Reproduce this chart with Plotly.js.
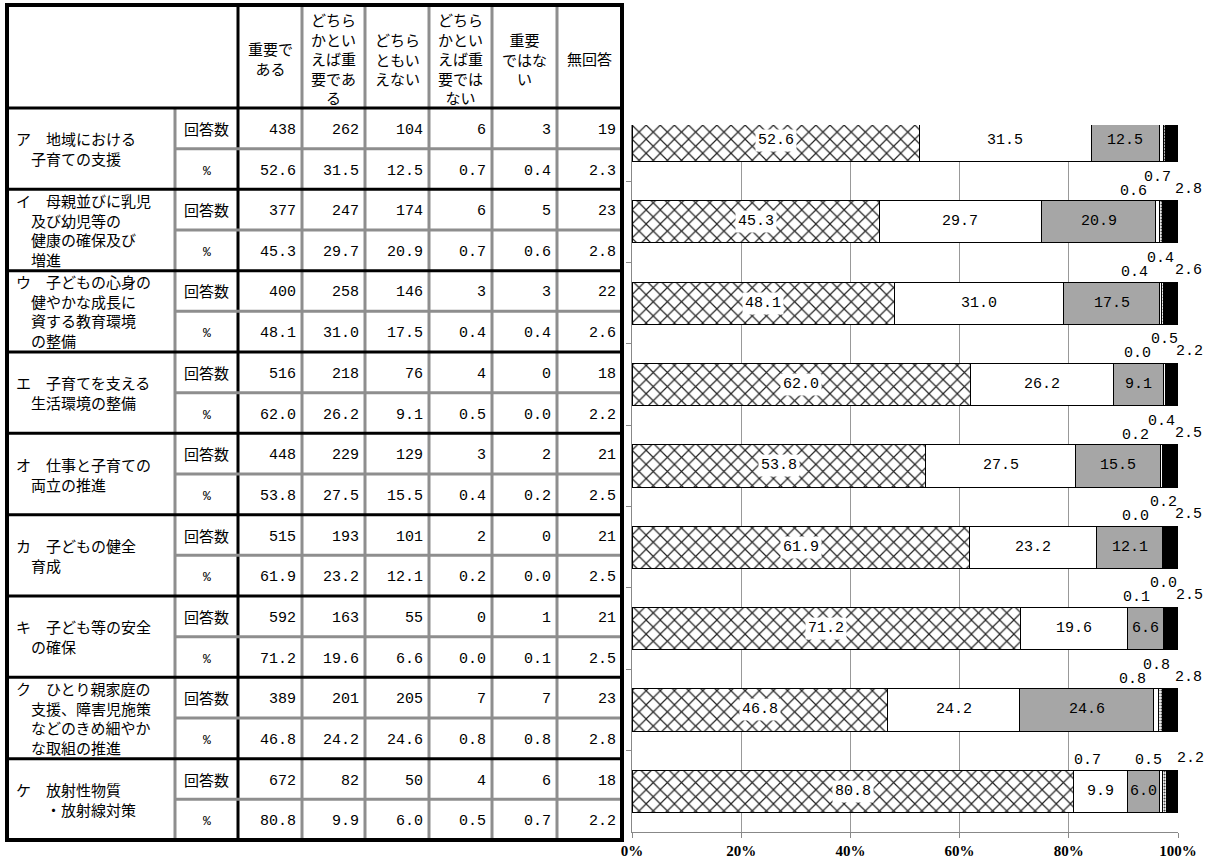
<!DOCTYPE html>
<html>
<head>
<meta charset="utf-8">
<script src="https://cdn.plot.ly/plotly-3.0.1.min.js"></script>
<style>
  html, body { margin: 0; padding: 0; background: #fff; }
  #chart { width: 1208px; height: 861px; }
</style>
</head>
<body>
<div id="chart"></div>
<script>
// 施策項目
const items = [
    'ア　地域における<br>　子育ての支援',
    'イ　母親並びに乳児<br>　及び幼児等の<br>　健康の確保及び<br>　増進',
    'ウ　子どもの心身の<br>　健やかな成長に<br>　資する教育環境<br>　の整備',
    'エ　子育てを支える<br>　生活環境の整備',
    'オ　仕事と子育ての<br>　両立の推進',
    'カ　子どもの健全<br>　育成',
    'キ　子ども等の安全<br>　の確保',
    'ク　ひとり親家庭の<br>　支援、障害児施策<br>　などのきめ細やか<br>　な取組の推進',
    'ケ　放射性物質<br>　　・放射線対策'
];
const headers = [
    '重要で<br>ある',
    'どちら<br>かとい<br>えば重<br>要であ<br>る',
    'どちら<br>ともい<br>えない',
    'どちら<br>かとい<br>えば重<br>要では<br>ない',
    '重要<br>ではな<br>い',
    '無回答'
];

// 回答数
const cntImportant  = [438, 377, 400, 516, 448, 515, 592, 389, 672];
const cntRather     = [262, 247, 258, 218, 229, 193, 163, 201, 82];
const cntNeither    = [104, 174, 146, 76, 129, 101, 55, 205, 50];
const cntRatherNot  = [6, 6, 3, 4, 3, 2, 0, 7, 4];
const cntNot        = [3, 5, 3, 0, 2, 0, 1, 7, 6];
const cntNoAnswer   = [19, 23, 22, 18, 21, 21, 21, 23, 18];

// %
const pctImportant  = [52.6, 45.3, 48.1, 62.0, 53.8, 61.9, 71.2, 46.8, 80.8];
const pctRather     = [31.5, 29.7, 31.0, 26.2, 27.5, 23.2, 19.6, 24.2, 9.9];
const pctNeither    = [12.5, 20.9, 17.5, 9.1, 15.5, 12.1, 6.6, 24.6, 6.0];
const pctRatherNot  = [0.7, 0.7, 0.4, 0.5, 0.4, 0.2, 0.0, 0.8, 0.5];
const pctNot        = [0.4, 0.6, 0.4, 0.0, 0.2, 0.0, 0.1, 0.8, 0.7];
const pctNoAnswer   = [2.3, 2.8, 2.6, 2.2, 2.5, 2.5, 2.5, 2.8, 2.2];

const xTicks = [0, 20, 40, 60, 80, 100];

const W = 1208, H = 861;
const px = x => x / W;
const py = y => 1 - y / H;

const gothic = 'Noto Sans CJK JP, sans-serif';
const mono = 'Liberation Mono, monospace';

const counts = [cntImportant, cntRather, cntNeither, cntRatherNot, cntNot, cntNoAnswer];
const pcts = [pctImportant, pctRather, pctNeither, pctRatherNot, pctNot, pctNoAnswer];

// 表の枠
const colX = [7, 175, 238, 302, 365, 429, 492, 557, 622];
const headTop = 5, headBottom = 108, tableBottom = 840;
const rowH = (tableBottom - headBottom) / 18;
const rowY = k => headBottom + k * rowH;

const shapes = [];
const annotations = [];

function line(x0, y0, x1, y1, color, width) {
    shapes.push({
        type: 'line', xref: 'paper', yref: 'paper', layer: 'above',
        x0: px(x0), y0: py(y0), x1: px(x1), y1: py(y1),
        line: {color: color, width: width}
    });
}

const gray = '#8e8e8e';
// 縦線
line(colX[1], headBottom, colX[1], tableBottom, gray, 3);
for (let c = 3; c < 8; c++) line(colX[c], headTop, colX[c], tableBottom, gray, 3);
line(colX[2], headTop, colX[2], tableBottom, '#000', 3);
// 横線
for (let k = 1; k < 18; k += 2) line(colX[1], rowY(k), colX[8], rowY(k), gray, 3);
for (let k = 2; k < 18; k += 2) line(colX[0], rowY(k), colX[8], rowY(k), '#000', 3);
line(colX[0], headBottom, colX[8], headBottom, '#000', 3);
// 外枠
shapes.push({
    type: 'rect', xref: 'paper', yref: 'paper', layer: 'above',
    x0: px(colX[0]), y0: py(tableBottom), x1: px(colX[8]), y1: py(headTop),
    line: {color: '#000', width: 4}
});

function text(t, x, y, opts) {
    annotations.push(Object.assign({
        text: t, xref: 'paper', yref: 'paper', x: px(x), y: py(y),
        showarrow: false, xanchor: 'center', yanchor: 'middle',
        font: {family: gothic, size: 15, color: '#000'}
    }, opts || {}));
}

const numFont = {family: mono, size: 15, color: '#000'};

// 見出し
headers.forEach((h, c) => {
    text(h, (colX[c + 2] + colX[c + 3]) / 2, 59, {font: {family: gothic, size: 15, color: '#000'}});
});

items.forEach((label, i) => {
    const top = rowY(i * 2);
    text(label, colX[0] + 7, top + rowH, {xanchor: 'left', align: 'left'});
    text('回答数', (colX[1] + colX[2]) / 2, top + rowH / 2);
    text('%', (colX[1] + colX[2]) / 2, top + rowH * 1.5 + 2, {font: {family: mono, size: 13, color: '#000'}});
    for (let c = 0; c < 6; c++) {
        text(String(counts[c][i]), colX[c + 3] - 4, top + rowH / 2 + 2, {xanchor: 'right', font: numFont});
        text(pcts[c][i].toFixed(1), colX[c + 3] - 4, top + rowH * 1.5 + 2, {xanchor: 'right', font: numFont});
    }
});

// 帯グラフ
const idx = items.map((_, i) => i);
const styles = [
    {color: '#fff', pattern: {shape: 'x', fgcolor: '#222', bgcolor: '#fff', size: 10, solidity: 0.22}},
    {color: '#fff'},
    {color: '#a6a6a6'},
    {color: '#fff'},
    {color: '#fff', pattern: {shape: '.', fgcolor: '#444', bgcolor: '#fff', size: 3, solidity: 0.4}},
    {color: '#000'}
];
const traces = pcts.map((vals, s) => ({
    type: 'bar',
    orientation: 'h',
    x: vals,
    y: idx,
    marker: Object.assign({line: {color: '#000', width: 1}}, styles[s]),
    hoverinfo: 'skip',
    showlegend: false
}));

const labelFont = {family: mono, size: 15, color: '#000'};
const halfBar = 0.26;
items.forEach((_, i) => {
    let cum = 0;
    const starts = pcts.map(vals => { const s = cum; cum += vals[i]; return s; });
    const mid = s => starts[s] + pcts[s][i] / 2;
    const lab = s => pcts[s][i].toFixed(1);
    annotations.push({text: lab(0), x: mid(0), y: i, xref: 'x', yref: 'y', showarrow: false,
        bgcolor: '#fff', borderpad: 2, font: labelFont});
    annotations.push({text: lab(1), x: mid(1), y: i, xref: 'x', yref: 'y', showarrow: false, font: labelFont});
    annotations.push({text: lab(2), x: mid(2), y: i, xref: 'x', yref: 'y', showarrow: false, font: labelFont});
    const last = i === items.length - 1;
    annotations.push({text: lab(3), x: mid(3), y: i - halfBar, xref: 'x', yref: 'y', showarrow: false,
        yanchor: 'bottom', xshift: last ? -13 : 0, yshift: last ? -1 : 13, font: labelFont});
    annotations.push({text: lab(4), x: mid(4), y: i - halfBar, xref: 'x', yref: 'y', showarrow: false,
        yanchor: 'bottom', xshift: last ? -77 : -28, yshift: -1, font: labelFont});
    annotations.push({text: lab(5), x: mid(5), y: i - halfBar, xref: 'x', yref: 'y', showarrow: false,
        yanchor: 'bottom', xshift: 18, yshift: 1, font: labelFont});
});

const layout = {
    width: W,
    height: H,
    margin: {l: 0, r: 0, t: 0, b: 0},
    paper_bgcolor: '#fff',
    plot_bgcolor: '#fff',
    barmode: 'stack',
    bargap: 0.48,
    xaxis: {
        domain: [px(632), px(1178)],
        range: [0, 100],
        tickvals: xTicks,
        ticktext: xTicks.map(v => v + '%'),
        showgrid: true,
        gridcolor: '#999',
        gridwidth: 1,
        zeroline: false,
        showline: true,
        linecolor: '#888',
        ticks: 'outside',
        ticklen: 5,
        tickcolor: '#888',
        tickfont: {family: 'Liberation Serif, serif', size: 15, color: '#000', weight: 'bold'},
        fixedrange: true
    },
    yaxis: {
        domain: [py(832), py(125)],
        range: [8.5, -0.19],
        tickvals: idx.slice(0, 8).map(v => v + 0.5),
        showticklabels: false,
        showgrid: false,
        zeroline: false,
        showline: true,
        linecolor: '#888',
        ticks: 'outside',
        ticklen: 5,
        tickcolor: '#888',
        fixedrange: true
    },
    shapes: shapes,
    annotations: annotations
};

Plotly.newPlot('chart', traces, layout, {displayModeBar: false, staticPlot: true});
</script>
</body>
</html>
